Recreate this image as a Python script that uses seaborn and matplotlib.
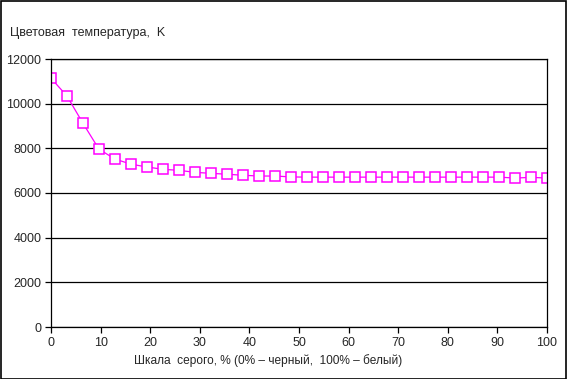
import numpy as np
import pandas as pd
import matplotlib
matplotlib.use('Agg')
import matplotlib.pyplot as plt
import matplotlib.patches as mpatches
import seaborn as sns

# данные: шкала серого (32 ступени) и цветовая температура
gray_pct = [i * 100 / 31 for i in range(32)]
color_temp = [11140, 10340, 9120, 7960, 7520, 7290, 7165, 7060, 7015, 6925,
              6880, 6840, 6795, 6760, 6760, 6720, 6710, 6710, 6710, 6710,
              6710, 6710, 6710, 6710, 6710, 6710, 6710, 6710, 6710, 6670,
              6700, 6670]
y_ticks = [0, 2000, 4000, 6000, 8000, 10000, 12000]
x_ticks = [0, 10, 20, 30, 40, 50, 60, 70, 80, 90, 100]

df = pd.DataFrame({'gray': gray_pct, 'temp': color_temp})

sns.set_style('white')
plt.rcParams['font.family'] = ['Liberation Sans', 'DejaVu Sans']
plt.rcParams['font.size'] = 9

fig = plt.figure(figsize=(5.67, 3.79), dpi=100)
ax = fig.add_axes([51 / 567, 1 - 327 / 379, 496 / 567, 268 / 379])

sns.lineplot(data=df, x='gray', y='temp', ax=ax, color='#ff00ff',
             linewidth=0.9, marker='s', markersize=6.8,
             markerfacecolor='white', markeredgecolor='#ff00ff',
             markeredgewidth=1.1)

ax.set_xlim(0, 100)
ax.set_ylim(0, 12000)
ax.set_xticks(x_ticks)
ax.set_yticks(y_ticks)
ax.set_xlabel('')
ax.set_ylabel('')
ax.yaxis.grid(True, color='black', linewidth=0.9)
ax.set_axisbelow(True)
for s in ['left', 'bottom', 'right', 'top']:
    ax.spines[s].set_visible(True)
    ax.spines[s].set_color('black')
    ax.spines[s].set_linewidth(0.9)
ax.tick_params(axis='both', direction='out', length=4, width=0.9,
               color='black', labelsize=9, pad=3, left=True, bottom=True)

fig.text(10 / 567, 1 - 33 / 379, 'Цветовая  температура,  K', fontsize=9,
         va='center', ha='left')
fig.text(268 / 567, 1 - 361 / 379,
         'Шкала  серого, % (0% – черный,  100% – белый)', fontsize=8.6,
         va='center', ha='center')

# рамка вокруг всей картинки
fig.patches.append(mpatches.Rectangle((0.001, 0.001), 0.997, 0.996,
                                      transform=fig.transFigure, fill=False,
                                      edgecolor='black', linewidth=1.2))

fig.savefig('out.png', dpi=100)
